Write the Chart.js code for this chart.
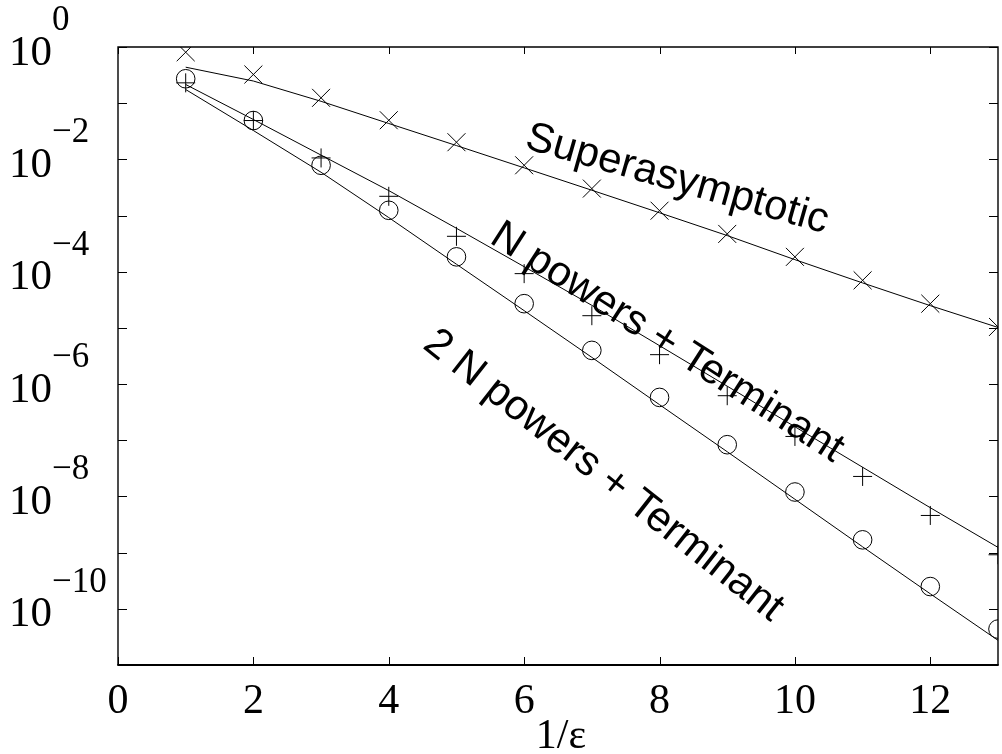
<!DOCTYPE html>
<html>
<head>
<meta charset="utf-8">
<script src="https://cdn.jsdelivr.net/npm/chart.js@4.4.1/dist/chart.umd.min.js"></script>
<style>
  html, body { margin: 0; padding: 0; background: #ffffff; overflow: hidden; }
  canvas { display: block; }
</style>
</head>
<body>
<canvas id="c" width="1002" height="754"></canvas>
<script>
// ---- data ----
const invEps = [1, 2, 3, 4, 5, 6, 7, 8, 9, 10, 11, 12, 13];

// Superasymptotic: markers (x) and curve
const superMarkers = [0.807, 0.324, 0.1245, 4.97e-2, 2.02e-2, 7.85e-3, 3.02e-3, 1.22e-3, 4.71e-4, 1.84e-4, 7.03e-5, 2.70e-5, 1.04e-5];
const superCurve   = [0.437, 0.248, 0.108, 4.35e-2, 1.76e-2, 7.06e-3, 2.82e-3, 1.12e-3, 4.40e-4, 1.64e-4, 6.32e-5, 2.49e-5, 1.02e-5];

// N powers + Terminant: markers (+) and curve
const nMarkers = [0.230, 4.91e-2, 1.06e-2, 2.20e-3, 4.27e-4, 9.25e-5, 1.65e-5, 3.34e-6, 6.21e-7, 1.17e-7, 2.27e-8, 4.59e-9, 9.16e-10];
const nCurve   = [0.215, 5.12e-2, 1.19e-2, 2.78e-3, 5.93e-4, 1.23e-4, 2.52e-5, 4.83e-6, 9.18e-7, 1.74e-7, 3.31e-8, 6.30e-9, 1.24e-9];

// 2 N powers + Terminant: markers (o) and curve
const n2Markers = [0.272, 4.91e-2, 7.85e-3, 1.24e-3, 1.84e-4, 2.70e-5, 3.98e-6, 5.79e-7, 8.34e-8, 1.20e-8, 1.69e-9, 2.49e-10, 4.36e-11];
const n2Curve   = [0.175, 3.26e-2, 5.89e-3, 9.20e-4, 1.36e-4, 2.03e-5, 2.99e-6, 4.30e-7, 6.25e-8, 8.91e-9, 1.27e-9, 1.85e-10, 2.75e-11];

// axes
const xTickValues = [0, 2, 4, 6, 8, 10, 12];
const xRange = [0, 13];
const yDecadeExps = [0, -1, -2, -3, -4, -5, -6, -7, -8, -9, -10, -11];
const yLabelExps = [0, -2, -4, -6, -8, -10];
const yRange = [1e-11, 1];
const xTitle = '1/ε';

// curve labels: [text, x, y, angle in degrees]
const curveLabels = [
  ['Superasymptotic', 8.26, 4.37e-3, 15.8],
  ['N powers + Terminant', 8.11, 5.46e-6, 32.6],
  ['2 N powers + Terminant', 7.17, 2.34e-8, 38.2]
];

// ---- build ----
const pts = arr => invEps.map((x, i) => ({ x: x, y: arr[i] }));

function curveSet(arr) {
  return { data: pts(arr), showLine: true, borderColor: '#000', borderWidth: 1,
           pointRadius: 0, pointHoverRadius: 0, tension: 0, clip: 0, fill: false };
}
function markerSet(arr, style, r) {
  return { data: pts(arr), showLine: false, pointStyle: style, pointRadius: r,
           pointHoverRadius: r, pointBorderColor: '#000', pointBackgroundColor: 'rgba(0,0,0,0)',
           pointBorderWidth: 1, clip: 0 };
}

const SERIF = '"Liberation Serif", "DejaVu Serif", serif';

const framePlugin = {
  id: 'frame',
  afterDraw(chart) {
    const ctx = chart.ctx;
    const a = chart.chartArea;
    const xs = chart.scales.x, ys = chart.scales.y;
    ctx.save();
    ctx.strokeStyle = '#000';
    // ticks
    ctx.lineWidth = 1;
    ctx.beginPath();
    yDecadeExps.forEach(e => {
      const py = Math.round(ys.getPixelForValue(Math.pow(10, e))) + 0.5;
      ctx.moveTo(a.left, py); ctx.lineTo(a.left + 9, py);
      ctx.moveTo(a.right, py); ctx.lineTo(a.right - 9, py);
    });
    xTickValues.forEach(v => {
      const px = Math.round(xs.getPixelForValue(v)) + 0.5;
      ctx.moveTo(px, a.bottom); ctx.lineTo(px, a.bottom - 8);
      ctx.moveTo(px, a.top); ctx.lineTo(px, a.top + 7);
    });
    ctx.stroke();
    // frame
    ctx.lineWidth = 1.4;
    ctx.beginPath();
    ctx.moveTo(a.left, a.bottom); ctx.lineTo(a.left, a.top);
    ctx.lineTo(a.right, a.top); ctx.lineTo(a.right, a.bottom);
    ctx.stroke();
    ctx.lineWidth = 2;
    ctx.beginPath();
    ctx.moveTo(a.left - 0.7, a.bottom); ctx.lineTo(a.right + 0.7, a.bottom);
    ctx.stroke();

    // y labels: 10 with superscript exponent
    ctx.fillStyle = '#000';
    yLabelExps.forEach(e => {
      const py = ys.getPixelForValue(Math.pow(10, e));
      ctx.font = '43px ' + SERIF;
      ctx.textAlign = 'right';
      ctx.textBaseline = 'alphabetic';
      ctx.fillText('10', 52, py + 17.5);
      ctx.font = '35px ' + SERIF;
      ctx.textAlign = 'left';
      ctx.fillText(e === 0 ? '0' : '\u2212' + String(-e), 52, py - 17);
    });
    // x labels
    ctx.font = '42px ' + SERIF;
    ctx.textAlign = 'center';
    ctx.textBaseline = 'alphabetic';
    xTickValues.forEach(v => {
      ctx.fillText(String(v), xs.getPixelForValue(v), 712.5);
    });
    ctx.fillText(xTitle, (a.left + a.right) / 2 + 3, 748);

    // curve labels
    ctx.font = '42px "Liberation Sans", Arial, sans-serif';
    ctx.textAlign = 'center';
    ctx.textBaseline = 'middle';
    curveLabels.forEach(([t, x, y, ang]) => {
      ctx.save();
      ctx.translate(xs.getPixelForValue(x), ys.getPixelForValue(y));
      ctx.rotate(ang * Math.PI / 180);
      ctx.fillText(t, 0, 0);
      ctx.restore();
    });
    ctx.restore();
  }
};

new Chart(document.getElementById('c'), {
  type: 'scatter',
  data: {
    datasets: [
      curveSet(superCurve),
      curveSet(nCurve),
      curveSet(n2Curve),
      markerSet(superMarkers, 'crossRot', 12.7),
      markerSet(nMarkers, 'cross', 9.5),
      markerSet(n2Markers, 'circle', 9.3)
    ]
  },
  options: {
    responsive: false,
    animation: false,
    devicePixelRatio: 1,
    events: [],
    layout: { autoPadding: false, padding: { top: 47, right: 4, left: 0, bottom: 0 } },
    plugins: { legend: { display: false }, tooltip: { enabled: false } },
    scales: {
      x: {
        type: 'linear', min: xRange[0], max: xRange[1],
        grid: { display: false }, border: { display: false },
        ticks: { display: false },
        afterFit: s => { s.height = 89; }
      },
      y: {
        type: 'logarithmic', min: yRange[0], max: yRange[1],
        grid: { display: false }, border: { display: false },
        ticks: { display: false },
        afterFit: s => { s.width = 118; }
      }
    }
  },
  plugins: [framePlugin]
});
</script>
</body>
</html>
